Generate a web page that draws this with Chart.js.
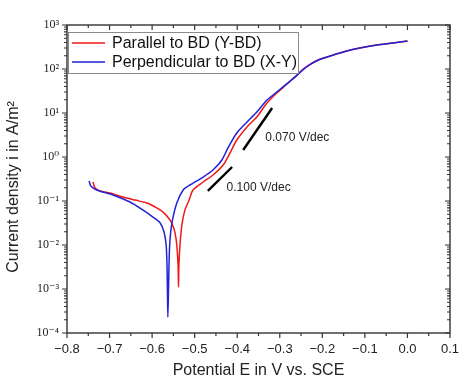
<!DOCTYPE html>
<html><head><meta charset="utf-8">
<script src="https://cdn.jsdelivr.net/npm/chart.js@4/dist/chart.umd.min.js"></script>
<style>html,body{margin:0;padding:0;background:#fff;}</style>
</head><body>
<canvas id="c" width="474" height="391"></canvas>
<script>
// ---- data ----
const seriesLabels = ['Parallel to BD (Y-BD)', 'Perpendicular to BD (X-Y)'];
const parallelE = [-0.739,-0.734,-0.722,-0.699,-0.668,-0.640,-0.612,-0.593,-0.574,-0.558,-0.551,-0.546,-0.542,-0.539,-0.538,-0.537,-0.5345,-0.530,-0.523,-0.513,-0.504,-0.480,-0.457,-0.433,-0.417,-0.401,-0.377,-0.354,-0.330,-0.307,-0.283,-0.262,-0.245,-0.229,-0.210,-0.189,-0.151,-0.112,-0.072,-0.034,0.000];
const parallelI = [0.270,0.197,0.169,0.152,0.123,0.105,0.090,0.073,0.056,0.037,0.027,0.0187,0.010,0.0035,0.00111,0.0035,0.010,0.0285,0.062,0.105,0.178,0.270,0.390,0.658,1.23,2.43,4.81,8.11,16.9,28.5,45.6,70,100,128,160,187,243,300,351,390,433];
const perpE = [-0.748,-0.744,-0.730,-0.692,-0.652,-0.621,-0.598,-0.581,-0.572,-0.567,-0.565,-0.564,-0.563,-0.5615,-0.560,-0.558,-0.553,-0.542,-0.527,-0.511,-0.480,-0.457,-0.436,-0.422,-0.401,-0.377,-0.354,-0.330,-0.307,-0.283,-0.262,-0.245,-0.229,-0.210,-0.189,-0.151,-0.112,-0.072,-0.034,0.000];
const perpI = [0.285,0.219,0.178,0.137,0.095,0.062,0.043,0.0316,0.0197,0.010,0.0035,0.00095,0.00023,0.00095,0.0046,0.013,0.0333,0.090,0.178,0.231,0.351,0.507,0.855,1.60,3.51,6.24,10.5,19.7,30.0,46.5,68,97,126,158,187,243,300,351,390,433];
const slope070E = [-0.386, -0.318];
const slope070I = [1.44, 13.0];
const slope100E = [-0.469, -0.412];
const slope100I = [0.169, 0.593];
const slopeLabels = ['0.070 V/dec', '0.100 V/dec'];
const slopeLabelE = [-0.334, -0.425];
const slopeLabelI = [2.8, 0.2];
const xTickValues = [-0.8,-0.7,-0.6,-0.5,-0.4,-0.3,-0.2,-0.1,0.0,0.1];
const yDecades = [-4,-3,-2,-1,0,1,2,3];
const xTitle = 'Potential E in V vs. SCE';
const yTitle = 'Current density i in A/m\u00B2';

const zip = (xs, ys) => xs.map((x, i) => ({x: x, y: ys[i]}));
const sup = {'-':'\u207B','0':'\u2070','1':'\u00B9','2':'\u00B2','3':'\u00B3','4':'\u2074'};
const RED = '#f01818', BLUE = '#2222d6';

const framePlugin = {
  id: 'frame',
  afterDatasetsDraw(chart) {
    const {ctx, chartArea: a, scales: {x, y}} = chart;
    ctx.save();
    ctx.strokeStyle = '#333'; ctx.lineWidth = 1.4;
    ctx.strokeRect(a.left, a.top, a.right - a.left, a.bottom - a.top);
    ctx.lineWidth = 1.2;
    ctx.beginPath();
    xTickValues.forEach((v, i) => {
      const px = x.getPixelForValue(v);
      ctx.moveTo(px, a.bottom); ctx.lineTo(px, a.bottom + 5);
      ctx.moveTo(px, a.top); ctx.lineTo(px, a.top + 5);
      if (i < xTickValues.length - 1) {
        const pm = x.getPixelForValue(v + 0.05);
        ctx.moveTo(pm, a.bottom); ctx.lineTo(pm, a.bottom + 3);
        ctx.moveTo(pm, a.top); ctx.lineTo(pm, a.top + 3);
      }
    });
    yDecades.forEach((n, i) => {
      const py = y.getPixelForValue(Math.pow(10, n));
      ctx.moveTo(a.left, py); ctx.lineTo(a.left - 5, py);
      ctx.moveTo(a.right, py); ctx.lineTo(a.right - 5, py);
      if (i < yDecades.length - 1) {
        for (let m = 2; m <= 9; m++) {
          const pm = y.getPixelForValue(m * Math.pow(10, n));
          ctx.moveTo(a.left, pm); ctx.lineTo(a.left - 3, pm);
          ctx.moveTo(a.right, pm); ctx.lineTo(a.right - 3, pm);
        }
      }
    });
    ctx.stroke();

    // slope labels
    ctx.fillStyle = '#222';
    ctx.font = '12px "Liberation Sans", Arial, sans-serif';
    ctx.textAlign = 'left'; ctx.textBaseline = 'middle';
    slopeLabels.forEach((t, i) => {
      ctx.fillText(t, x.getPixelForValue(slopeLabelE[i]), y.getPixelForValue(slopeLabelI[i]));
    });

    // legend
    const lx = a.left + 1, ly = a.top + 7, lw = 230, lh = 41;
    ctx.fillStyle = '#fff';
    ctx.fillRect(lx, ly, lw, lh);
    ctx.strokeStyle = '#8a8a8a'; ctx.lineWidth = 1;
    ctx.strokeRect(lx + 0.5, ly + 0.5, lw, lh);
    const colors = [RED, BLUE];
    ctx.font = '16px "Liberation Sans", Arial, sans-serif';
    seriesLabels.forEach((t, i) => {
      const yy = ly + 11 + i * 19;
      ctx.strokeStyle = colors[i]; ctx.lineWidth = 1.6;
      ctx.beginPath(); ctx.moveTo(lx + 4, yy); ctx.lineTo(lx + 37, yy); ctx.stroke();
      ctx.fillStyle = '#111';
      ctx.fillText(t, lx + 44, yy + 1);
    });

    // y title
    ctx.save();
    ctx.translate(14, (a.top + a.bottom) / 2 + 8);
    ctx.rotate(-Math.PI / 2);
    ctx.textAlign = 'center'; ctx.textBaseline = 'middle';
    ctx.fillStyle = '#222';
    ctx.font = '16px "Liberation Sans", Arial, sans-serif';
    ctx.fillText(yTitle, 0, 0);
    ctx.restore();
    ctx.restore();
  }
};

new Chart(document.getElementById('c'), {
  type: 'scatter',
  data: {
    datasets: [
      {label: seriesLabels[0], data: zip(parallelE, parallelI), showLine: true, borderColor: RED, borderWidth: 1.5, pointRadius: 0, tension: 0.25, order: 2},
      {label: seriesLabels[1], data: zip(perpE, perpI), showLine: true, borderColor: BLUE, borderWidth: 1.5, pointRadius: 0, tension: 0.25, order: 1},
      {label: 'slope1', data: zip(slope070E, slope070I), showLine: true, borderColor: '#000', borderWidth: 2.4, pointRadius: 0, order: 0},
      {label: 'slope2', data: zip(slope100E, slope100I), showLine: true, borderColor: '#000', borderWidth: 2.4, pointRadius: 0, order: 0}
    ]
  },
  options: {
    responsive: false, animation: false, devicePixelRatio: 1,
    layout: {padding: {top: 25, right: 24, left: 0, bottom: 0}},
    plugins: {legend: {display: false}, tooltip: {enabled: false}},
    scales: {
      x: {
        type: 'linear', min: -0.8, max: 0.1,
        grid: {display: false, drawTicks: false}, border: {display: false},
        afterBuildTicks: s => { s.ticks = xTickValues.map(v => ({value: v})); },
        afterFit: s => { s.height = 58; },
        ticks: {
          padding: 9, color: '#222', maxRotation: 0, autoSkip: false,
          font: {family: '"Liberation Sans", Arial, sans-serif', size: 13},
          callback: v => (v < -1e-9 ? '\u2212' : '') + Math.abs(v).toFixed(1)
        },
        title: {display: true, text: xTitle, color: '#222', padding: {top: 0, bottom: 11},
          font: {family: '"Liberation Sans", Arial, sans-serif', size: 16}}
      },
      y: {
        type: 'logarithmic', min: 1e-4, max: 1e3,
        grid: {display: false, drawTicks: false}, border: {display: false},
        afterBuildTicks: s => { s.ticks = yDecades.map(n => ({value: Math.pow(10, n)})); },
        afterFit: s => { s.width = 67; },
        ticks: {
          padding: 8, color: '#222', autoSkip: false,
          font: {family: '"Liberation Serif", "DejaVu Serif", serif', size: 12},
          callback: v => { const n = Math.round(Math.log10(v)); return '10' + String(n).split('').map(c => sup[c]).join(''); }
        }
      }
    }
  },
  plugins: [framePlugin]
});
</script>
</body></html>
